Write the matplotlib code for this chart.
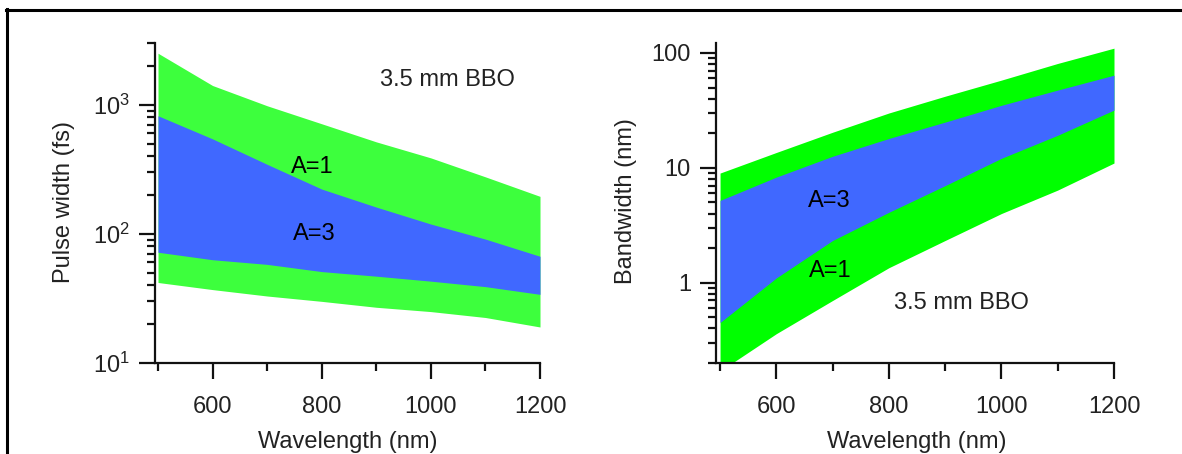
import matplotlib
matplotlib.use('Agg')
import matplotlib.pyplot as plt
import matplotlib.ticker as ticker
from matplotlib.lines import Line2D

plt.rcParams['font.family'] = ['Liberation Sans', 'DejaVu Sans']
plt.rcParams['mathtext.default'] = 'regular'

# wavelength grid (nm)
wl = [500, 600, 700, 800, 900, 1000, 1100, 1200]

# left panel: pulse width (fs)
pw_a1_hi = [2500, 1406, 980, 711, 515, 387, 276, 195]
pw_a3_hi = [820, 543, 345, 222, 161, 119, 91, 67]
pw_a3_lo = [72, 63, 58, 51, 47, 43, 39, 34]
pw_a1_lo = [42, 37, 33, 30, 27, 25, 22.5, 19]

# right panel: bandwidth (nm)
bw_a1_hi = [9.0, 13.6, 20.4, 30.0, 42, 58, 81, 110]
bw_a3_hi = [5.2, 8.3, 12.6, 18, 25, 35, 47.5, 64]
bw_a3_lo = [0.45, 1.1, 2.33, 4.1, 7.0, 12.1, 19.2, 31.8]
bw_a1_lo = [0.17, 0.36, 0.70, 1.35, 2.33, 4.0, 6.4, 11]

W, H = 1182, 454
blue = '#4068ff'
txt = '#222222'
fs = 17

fig = plt.figure(figsize=(W/100, H/100), dpi=100)

def px(x, y):
    return x/W, 1 - y/H

ax1 = fig.add_axes([155/W, 91/H, 385/W, 320/H])
ax2 = fig.add_axes([716/W, 91/H, 398/W, 320/H])

ax1.fill_between(wl, pw_a1_lo, pw_a1_hi, color='#3dff3d', lw=0)
ax1.fill_between(wl, pw_a3_lo, pw_a3_hi, color=blue, lw=0)
ax2.fill_between(wl, bw_a1_lo, bw_a1_hi, color='#00ff00', lw=0)
ax2.fill_between(wl, bw_a3_lo, bw_a3_hi, color=blue, lw=0)

for ax in (ax1, ax2):
    ax.set_yscale('log')
    for s in ('top', 'right'):
        ax.spines[s].set_visible(False)
    for s in ('left', 'bottom'):
        ax.spines[s].set_linewidth(1.6)
        ax.spines[s].set_color('#111111')
    ax.xaxis.set_major_locator(ticker.FixedLocator([600, 800, 1000, 1200]))
    ax.xaxis.set_minor_locator(ticker.FixedLocator([500, 700, 900, 1100]))
    ax.yaxis.set_minor_locator(ticker.LogLocator(base=10, subs=range(2, 10)))
    ax.yaxis.set_minor_formatter(ticker.NullFormatter())
    ax.tick_params(which='major', direction='out', length=11.5, width=1.6,
                   color='#111111', labelsize=fs, labelcolor=txt)
    ax.tick_params(which='minor', direction='out', length=5.5, width=1.6,
                   color='#111111')
    ax.tick_params(axis='x', which='major', pad=12)
    ax.tick_params(axis='y', which='major', pad=6.5)
    ax.set_xlabel('Wavelength (nm)', fontsize=fs, color=txt)

ax1.set_xlim(494.5, 1200)
ax1.set_ylim(10, 3000)
ax1.yaxis.set_major_locator(ticker.FixedLocator([10, 100, 1000]))
ax1.yaxis.set_major_formatter(ticker.LogFormatterSciNotation())
ax1.set_ylabel('Pulse width (fs)', fontsize=fs, color=txt)
ax1.yaxis.set_label_coords(-0.208, 0.503)
ax1.xaxis.set_label_coords(0.501, -0.2125)

ax2.set_xlim(492.8, 1200)
ax2.set_ylim(0.2, 122)
ax2.yaxis.set_major_locator(ticker.FixedLocator([1, 10, 100]))
ax2.yaxis.set_major_formatter(ticker.FuncFormatter(lambda v, p: '%g' % v))
ax2.set_ylabel('Bandwidth (nm)', fontsize=fs, color=txt)
ax2.yaxis.set_label_coords(-0.1985, 0.506)
ax2.xaxis.set_label_coords(0.505, -0.2125)

notes = [('3.5 mm BBO', 447, 80, txt), ('A=1', 312, 167, 'black'),
         ('A=3', 314, 234, 'black'), ('A=3', 829, 201, 'black'),
         ('A=1', 830, 271, 'black'), ('3.5 mm BBO', 961, 303, txt)]
for s, x, y, c in notes:
    fig.text(*px(x, y), s, ha='center', va='center', fontsize=fs, color=c)

# outer frame (only top and left edges visible)
fig.add_artist(Line2D([6/W, 1.0], [1 - 10/H, 1 - 10/H],
                      transform=fig.transFigure, color='black', lw=2.2))
fig.add_artist(Line2D([7/W, 7/W], [0, 1 - 9/H],
                      transform=fig.transFigure, color='black', lw=2.2))

fig.savefig('out.png', dpi=100)
